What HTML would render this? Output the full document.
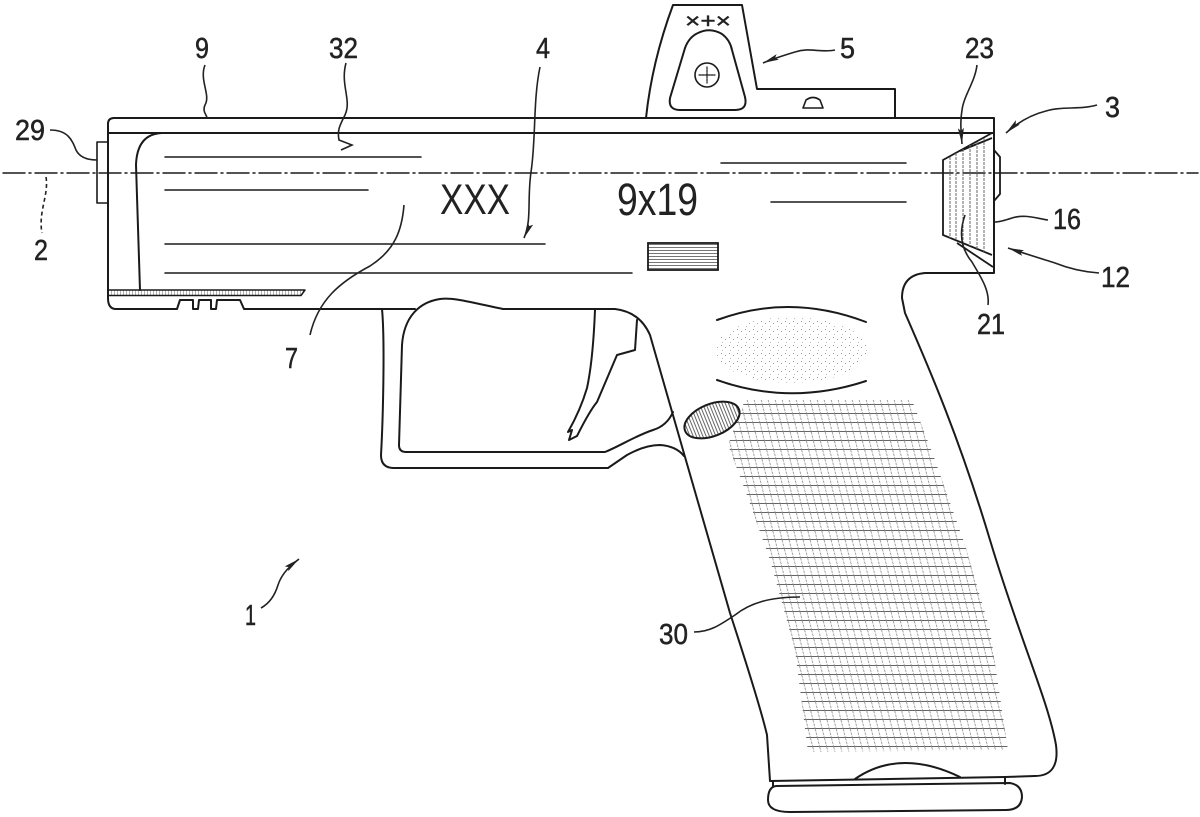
<!DOCTYPE html>
<html><head><meta charset="utf-8"><style>
html,body{margin:0;padding:0;background:#fff;}
svg{display:block;}
text{font-family:"Liberation Sans",Arial,sans-serif;fill:#222;}
</style></head><body>
<svg width="1200" height="817" viewBox="0 0 1200 817" xmlns="http://www.w3.org/2000/svg">
<defs>
<marker id="ar" viewBox="0 0 16 6" refX="16" refY="3" markerWidth="16" markerHeight="6" orient="auto" markerUnits="userSpaceOnUse">
<path d="M0,0 L16,3 L0,6 L3,3 Z" fill="#222"/></marker>
<pattern id="chk" width="7" height="9" patternUnits="userSpaceOnUse" patternTransform="skewX(14)">
<line x1="0" y1="8.5" x2="7" y2="8.5" stroke="#555" stroke-width="0.9"/>
<line x1="3.5" y1="0" x2="3.5" y2="9" stroke="#888" stroke-width="0.8" stroke-dasharray="2.5 1"/>
</pattern>
<pattern id="stip" width="8" height="8" patternUnits="userSpaceOnUse">
<rect x="1" y="1" width="1" height="1" fill="#999"/><rect x="5" y="3" width="1" height="1" fill="#aaa"/>
<rect x="2" y="6" width="1" height="1" fill="#bbb"/>
</pattern>
<pattern id="vh" width="3" height="4" patternUnits="userSpaceOnUse">
<line x1="1.5" y1="0" x2="1.5" y2="4" stroke="#555" stroke-width="0.9"/></pattern>
<pattern id="hh" width="4" height="3" patternUnits="userSpaceOnUse">
<line x1="0" y1="1.5" x2="4" y2="1.5" stroke="#666" stroke-width="0.9"/></pattern>
<pattern id="rh" width="3" height="6" patternUnits="userSpaceOnUse">
<line x1="0" y1="0" x2="0" y2="6" stroke="#666" stroke-width="1"/></pattern>
</defs>
<rect width="1200" height="817" fill="#fff"/>

<g fill="none" stroke="#1a1a1a" stroke-width="2" stroke-linejoin="round" stroke-linecap="round">
<line x1="3" y1="173" x2="1198" y2="173" stroke-width="1.4" stroke-dasharray="22 4 2 4"/>

<path d="M646,118 C650,80 660,40 673,5 L742,5 L757,89 L895,89 L895,118"/>
<path d="M698,33 Q710,27 722,34 Q730,40 732,50 L745,97 Q748,110 735,110 L680,110 Q668,110 670,98 L685,48 Q689,37 698,33 Z"/>
<circle cx="707" cy="75" r="12" stroke-width="1.6"/>
<path d="M699,75 H715 M707,67 V83" stroke-width="1.2" stroke-dasharray="2 1"/>
<path d="M803,108 L806,100 Q813,95 820,100 L823,108 Z" stroke-width="1.6"/>

<path d="M108,298 L108,124 Q108,118 114,118 L994,118 L994,273 L925,273 Q902,275 902,298 L905,313 C930,370 960,440 990,540 C1020,640 1048,700 1056,745 Q1060,776 1035,776 L1005,777"/>
<line x1="108" y1="133" x2="994" y2="133"/>
<rect x="97" y="142" width="11" height="61" stroke-width="1.6"/>
<path d="M140,290 L136,165 Q137,134 162,133"/>
<path d="M108,290 L305,290 L301,295.5 L108,295.5 Z" fill="url(#rh)" stroke-width="1.5"/>
<path d="M108,298 Q108,309 116,309 L177,309 L180,300 L193,300 L193,309 L198,309 L199,300 L211,300 L211,309 L216,309 L217,300 L240,300 L244,309 L415,309"/>
<path d="M503,309 C470,302 452,297 440,299 C420,302 404,316 402,345 L399,445 Q399,452 406,452 L605,452 C620,446 635,436 653,430 C663,427 669,421 673,412"/>
<path d="M503,309 L615,309 Q640,312 650,335 L683,450 L730,613 Q760,705 767,735 L770,781 L1005,777"/>
<path d="M382,309 C385,340 383,420 381,455 Q381,468 394,468 L608,468 L627,455 Q645,445 660,445 Q676,446 684,456"/>
<path d="M595,310 C594,335 592,365 587,388 C582,405 576,418 568,432 L572,430 L569,440 L577,436 C585,420 592,408 597,402 L617,355 L635,350 L637,320"/>
<path d="M855,779 Q900,748 960,777"/>
<path d="M773,781 L773,786 M1005,777 L1005,784"/>
<path d="M776,786 L1010,783 Q1022,785 1022,797 Q1021,810 1006,810 L790,812 Q768,812 768,800 Q768,787 776,786 Z"/>
<path d="M717,320 Q790,293 866,322"/>
<path d="M717,380 Q790,406 866,381"/>
<g stroke-width="1.5">
<line x1="165" y1="157" x2="421" y2="157"/>
<line x1="165" y1="190" x2="368" y2="190"/>
<line x1="165" y1="244" x2="545" y2="244"/>
<line x1="165" y1="273" x2="632" y2="273"/>
<line x1="721" y1="163" x2="906" y2="163"/>
<line x1="771" y1="202" x2="906" y2="202"/>
</g>
</g>

<ellipse cx="791" cy="350" rx="76" ry="33" fill="url(#stip)"/>
<path d="M745,400 L912,400 L935,460 L965,545 L990,630 L1008,750 L808,752 L795,650 L770,560 L745,490 L728,445 Z" fill="url(#chk)"/>
<ellipse cx="712" cy="420" rx="29" ry="16" transform="rotate(-22 712 420)" fill="url(#vh)" stroke="#1a1a1a" stroke-width="2"/>
<rect x="648" y="243" width="70" height="27" fill="url(#hh)" stroke="#1a1a1a" stroke-width="1.8"/>

<g fill="none" stroke="#1a1a1a" stroke-width="1.8">
<path d="M992,133 L943,160 L943,235 L992,255"/>
<path d="M960,151 L992,138"/>
<path d="M957,243 L993,267"/>
<path d="M994,150 L1000,157 L1000,194 L994,201"/>
<g stroke="#666" stroke-width="1" stroke-dasharray="3 1">
<line x1="950" y1="157" x2="950" y2="238"/>
<line x1="956" y1="153" x2="956" y2="241"/>
<line x1="963" y1="149" x2="963" y2="244"/>
<line x1="970" y1="145" x2="970" y2="246"/>
<line x1="977" y1="142" x2="977" y2="249"/>
<line x1="984" y1="138" x2="984" y2="252"/>
</g>
</g>

<g fill="none" stroke="#222" stroke-width="1.6">
<path d="M50,130 C68,130 72,140 76,150 C80,158 88,160 97,160"/>
<path d="M46,177 C49,195 38,212 42,233" stroke-dasharray="4 3"/>
<path d="M205,65 C199,80 211,95 205,105 C202,112 207,115 207,118"/>
<path d="M346,63 C340,85 352,100 345,115 C340,125 337,130 339,140 L352,145 L341,150"/>
<path d="M540,67 C533,100 536,140 531,172 C527,200 532,220 524,238" marker-end="url(#ar)"/>
<path d="M310,335 C318,300 340,282 370,266 C395,250 402,230 404,205"/>
<path d="M835,50 C820,53 810,47 795,52 C785,55 775,58 763,63" marker-end="url(#ar)"/>
<path d="M977,65 C975,82 964,95 962,110 C960,122 961,130 962,144" marker-end="url(#ar)"/>
<path d="M1097,105 C1080,110 1062,106 1046,111 C1030,115 1016,124 1006,133" marker-end="url(#ar)"/>
<path d="M1048,220 C1035,218 1025,214 1012,218 C1003,221 998,222 995,222"/>
<path d="M1099,273 C1085,272 1070,269 1055,263 C1036,257 1020,252 1008,248" marker-end="url(#ar)"/>
<path d="M988,305 C990,290 980,276 972,262 C962,250 958,235 965,215"/>
<path d="M694,632 C710,632 720,625 735,615 C750,603 770,597 800,597"/>
<path d="M261,608 C270,603 275,595 278,585 C282,573 290,566 299,559" marker-end="url(#ar)"/>
</g>

<g font-size="29" stroke="#222" stroke-width="0.5">
<text x="15" y="140" textLength="30" lengthAdjust="spacingAndGlyphs">29</text>
<text x="34" y="260" textLength="14" lengthAdjust="spacingAndGlyphs">2</text>
<text x="195" y="58" textLength="14" lengthAdjust="spacingAndGlyphs">9</text>
<text x="329" y="58" textLength="29" lengthAdjust="spacingAndGlyphs">32</text>
<text x="536" y="58" textLength="14" lengthAdjust="spacingAndGlyphs">4</text>
<text x="840" y="58" textLength="15" lengthAdjust="spacingAndGlyphs">5</text>
<text x="965" y="58" textLength="29" lengthAdjust="spacingAndGlyphs">23</text>
<text x="1105" y="117" textLength="15" lengthAdjust="spacingAndGlyphs">3</text>
<text x="1053" y="229" textLength="28" lengthAdjust="spacingAndGlyphs">16</text>
<text x="1101" y="287" textLength="29" lengthAdjust="spacingAndGlyphs">12</text>
<text x="977" y="334" textLength="28" lengthAdjust="spacingAndGlyphs">21</text>
<text x="285" y="368" textLength="13" lengthAdjust="spacingAndGlyphs">7</text>
<text x="245" y="625" textLength="11" lengthAdjust="spacingAndGlyphs">1</text>
<text x="659" y="644" textLength="29" lengthAdjust="spacingAndGlyphs">30</text>
</g>
<text x="440" y="214" font-size="43" textLength="70" lengthAdjust="spacingAndGlyphs" fill="#333">XXX</text>
<text x="617" y="215" font-size="45" textLength="81" lengthAdjust="spacingAndGlyphs" fill="#333">9x19</text>
<text x="685" y="28" font-size="21" textLength="46" lengthAdjust="spacingAndGlyphs" stroke="#222" stroke-width="0.4">×+×</text>
</svg>
</body></html>
